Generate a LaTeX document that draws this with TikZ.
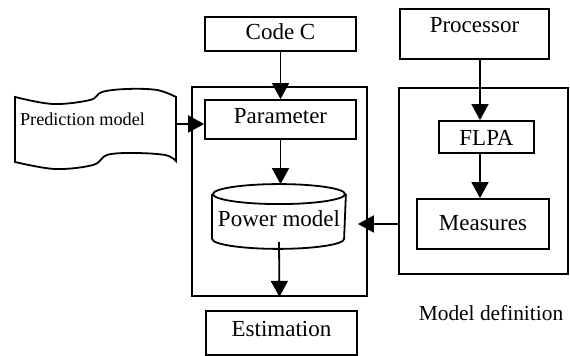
\documentclass[tikz,border=0pt]{standalone}
\usepackage{fontspec}
\setmainfont{Liberation Serif}
\usetikzlibrary{arrows.meta}
\begin{document}
\begin{tikzpicture}[x=0.5pt, y=0.5pt, line width=0.9pt,
  every node/.style={font=\fontsize{11.5}{13}\selectfont, inner sep=0pt},
  box/.style={draw, rectangle},
  arr/.style={-{Triangle[length=8pt,width=8.5pt]}}]
\useasboundingbox (0,0) rectangle (570,356);
% Frames
\node[box, minimum width=87.5pt, minimum height=104.5pt] (lframe) at (279.5,164.5) {};
\node[box, minimum width=84.5pt, minimum height=93pt] (rframe) at (483.5,175) {};
% Inputs
\node[box, minimum width=75.5pt, minimum height=17pt, text height=5.3pt, text depth=0pt] (code) at (280.5,322) {Code C};
\node[box, minimum width=74.5pt, minimum height=25pt, text height=0pt, text depth=1pt] (proc) at (474.5,322) {Processor};
% Left frame
\node[box, minimum width=75.5pt, minimum height=19.5pt, text height=3.8pt, text depth=0pt] (param) at (280.5,236.5) {Parameter};
\node[minimum width=66pt, minimum height=31.5pt, text height=10.5pt, text depth=0pt] (power) at (279,139.5) {Power model};
\draw ([yshift=-5pt]power.north west) -- ([yshift=5pt]power.south west)
  arc[start angle=180, end angle=360, x radius=33pt, y radius=5pt]
  -- ([yshift=-5pt]power.north east);
\draw ([yshift=-5pt]power.north) ellipse[x radius=33pt, y radius=5pt];
% Right frame
\node[box, minimum width=47.5pt, minimum height=16pt, text height=8.7pt, text depth=0pt] (flpa) at (486.5,219) {FLPA};
\node[box, minimum width=66pt, minimum height=25pt, text height=7pt, text depth=0pt] (meas) at (483,132) {Measures};
% Output
\node[box, minimum width=75.5pt, minimum height=22pt, text height=4pt, text depth=0pt] (est) at (281.5,23) {Estimation};
\node[font=\fontsize{10.7}{12}\selectfont] (mdef) at (491,42.5) {Model definition};
% Prediction model
\draw (15,194) -- plot[smooth, tension=0.6] coordinates {(15,259) (53,252) (90,256) (102,264) (127,267) (157,266) (176,259)}
  -- plot[smooth, tension=0.6] coordinates {(176,195) (165,201) (133,203) (107,201) (93,191) (55,187) (15,194)} -- cycle;
\node[font=\fontsize{9.1}{11}\selectfont] (pred) at (82.5,237) {Prediction model};
\coordinate (predE) at (176,232);
% Connectors
\coordinate (fx) at (480,0);
\draw[arr] (predE) -- (param.west |- predE);
\draw[arr] (code.south) -- (param.north);
\draw[arr] (param.south) -- (param.south |- power.north);
\draw[arr] ([yshift=3.5pt]power.south) -- (lframe.south);
\draw[arr] (proc.south -| fx) -- (flpa.north -| fx);
\draw[arr] (flpa.south -| fx) -- (meas.north -| fx);
\draw[arr] (rframe.west |- meas.west) -- ([xshift=6pt]power.east |- meas.west);
\end{tikzpicture}
\end{document}
